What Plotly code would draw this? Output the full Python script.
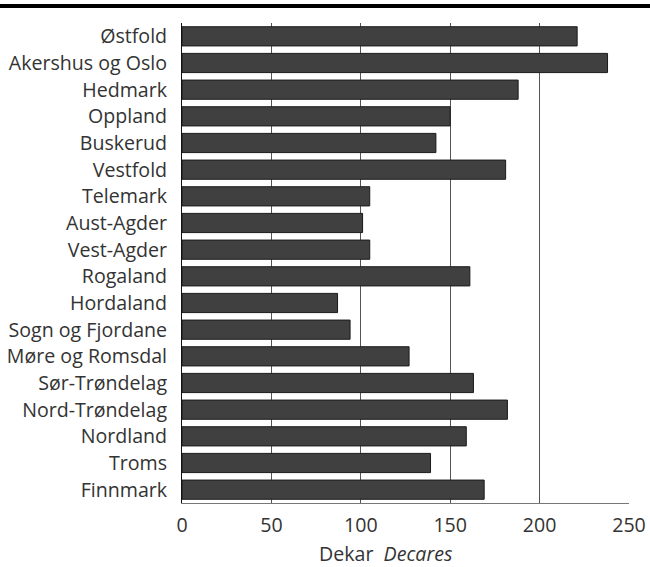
import plotly.graph_objects as go

regions = ["Østfold", "Akershus og Oslo", "Hedmark", "Oppland", "Buskerud", "Vestfold",
           "Telemark", "Aust-Agder", "Vest-Agder", "Rogaland", "Hordaland",
           "Sogn og Fjordane", "Møre og Romsdal", "Sør-Trøndelag", "Nord-Trøndelag",
           "Nordland", "Troms", "Finnmark"]
decares = [221, 238, 188, 150, 142, 181, 105, 101, 105, 161, 87, 94, 127, 163, 182, 159, 139, 169]
x_ticks = [0, 50, 100, 150, 200, 250]
x_title = "Dekar\u00a0\u00a0<i>Decares</i>"

W, H = 650, 567
ml, mr, mt, mb = 182, 21, 23, 64
pw = W - ml - mr
ph = H - mt - mb

fig = go.Figure(go.Bar(
    x=decares, y=regions, orientation="h",
    marker=dict(color="#404040", line=dict(color="#1a1a1a", width=1)),
    width=0.72,
))

font_fam = "Open Sans, DejaVu Sans, sans-serif"
fs = 19.6
txt = "#333333"
fig.update_layout(
    width=W, height=H,
    margin=dict(l=ml, r=mr, t=mt, b=mb, pad=0),
    paper_bgcolor="white", plot_bgcolor="white",
    showlegend=False,
    font=dict(family=font_fam, size=fs, color=txt),
    xaxis=dict(
        range=[0, 250], tickvals=x_ticks, ticktext=[str(v) for v in x_ticks],
        showgrid=True, gridcolor="#555555", gridwidth=1,
        showline=True, linecolor="#777777", linewidth=1,
        zeroline=False, ticks="", ticklen=0, ticklabelstandoff=4,
        tickfont=dict(size=fs, color=txt),
        automargin=False, fixedrange=True,
    ),
    yaxis=dict(
        categoryorder="array", categoryarray=regions, autorange="reversed",
        showgrid=False, showline=True, linecolor="#111111", linewidth=1,
        ticks="", ticklen=0, ticklabelstandoff=10,
        tickfont=dict(size=fs, color=txt),
        automargin=False, fixedrange=True,
    ),
    annotations=[dict(
        text=x_title, xref="paper", yref="paper",
        x=(385.5 - ml) / pw, y=(H - mb - 553) / ph,
        xanchor="center", yanchor="middle", showarrow=False,
        font=dict(size=fs, color=txt),
    )],
    shapes=[dict(
        type="line", xref="paper", yref="paper",
        x0=-ml / pw, x1=1 + mr / pw,
        y0=(H - mb - 6) / ph, y1=(H - mb - 6) / ph,
        line=dict(color="black", width=4),
    )],
)

fig.write_html("out.html", config={"displayModeBar": False},
               post_script="document.body.style.margin='0';")
